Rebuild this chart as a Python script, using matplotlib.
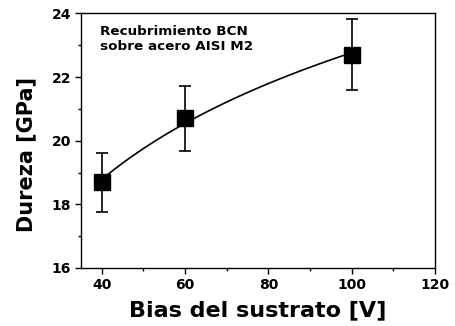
import numpy as np
import matplotlib
matplotlib.use("Agg")
import matplotlib.pyplot as plt
from matplotlib.ticker import MultipleLocator

# data
bias = [40, 60, 100]
dureza = [18.7, 20.7, 22.7]
error = [0.93, 1.03, 1.12]

plt.rcParams['font.family'] = ['DejaVu Sans']
plt.rcParams['font.weight'] = 'bold'

fig = plt.figure(figsize=(4.56, 3.26), dpi=100)
ax = fig.add_axes([0.1776, 0.178, 0.7764, 0.7806])

# log fit through the points
b, a = np.polyfit(np.log(bias), dureza, 1)
xf = np.linspace(bias[0], bias[-1], 100)
ax.plot(xf, a + b * np.log(xf), color='black', lw=1.2, zorder=2)

ax.errorbar(bias, dureza, yerr=error, fmt='s', color='black', ms=12,
            elinewidth=1.2, capsize=4.5, capthick=1.2, zorder=3)

ax.set_xlim(35, 120)
ax.set_ylim(16, 24)
ax.xaxis.set_minor_locator(MultipleLocator(10))
ax.yaxis.set_major_locator(MultipleLocator(2))
ax.yaxis.set_minor_locator(MultipleLocator(1))
ax.set_xticks([40, 60, 80, 100, 120])
ax.tick_params(which='major', direction='out', length=4, width=1, labelsize=10, pad=3)
ax.tick_params(which='minor', direction='out', length=2.5, width=1)
for s in ax.spines.values():
    s.set_linewidth(1)

ax.set_xlabel('Bias del sustrato [V]', fontsize=16, fontweight='bold', labelpad=6)
ax.set_ylabel('Dureza [GPa]', fontsize=15, fontweight='bold')
ax.yaxis.set_label_coords(-0.125, 0.445)

ax.text(0.054, 0.955, 'Recubrimiento BCN\nsobre acero AISI M2', transform=ax.transAxes,
        fontsize=9.7, fontweight='bold', va='top', ha='left', linespacing=1.25)

fig.savefig('out.png', dpi=100)
